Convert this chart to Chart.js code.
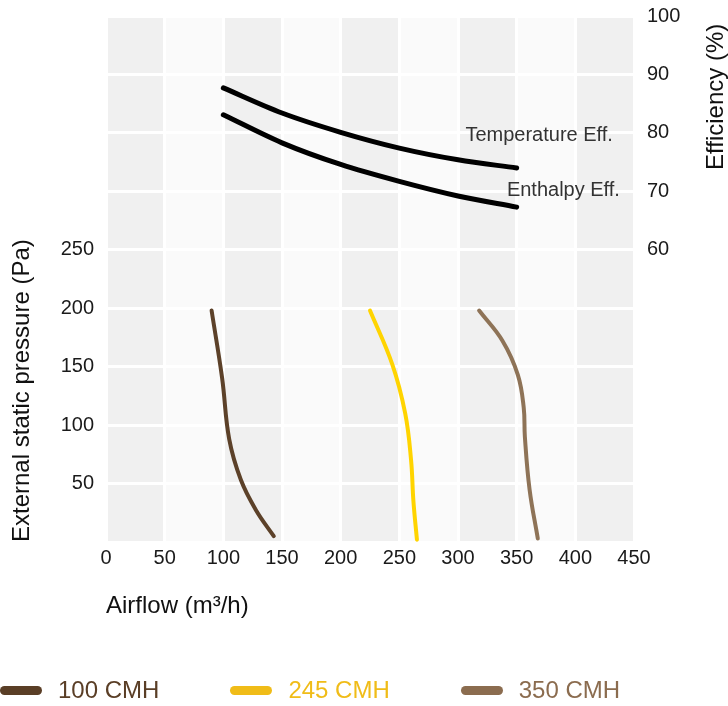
<!DOCTYPE html>
<html>
<head>
<meta charset="utf-8">
<script src="https://cdn.jsdelivr.net/npm/chart.js@4"></script>
<style>
  html, body { margin: 0; padding: 0; background: #fff; }
  #wrap { position: relative; width: 728px; height: 706px; }
  #legend { position: absolute; left: 0; top: 675px; display: flex; font-family: 'Liberation Sans', Arial, sans-serif; font-size: 24px; }
  .item { display: flex; align-items: center; margin-right: 71px; height: 30px; }
  .swatch { width: 42px; height: 9px; border-radius: 5px; margin-right: 16px; }
</style>
</head>
<body>
<div id="wrap">
  <canvas id="perfChart" width="728" height="706"></canvas>
  <div id="legend"></div>
</div>
<script>
// Fan curves: [airflow m3/h, external static pressure Pa]
const curve100 = [[90,198],[99,140],[105,88],[115,53],[128,27],[143,5]];
const curve245 = [[225,198],[244,152],[255,110],[260,70],[262,35],[265,2]];
const curve350 = [[318,198],[338,172],[351,143],[356,115],[357,90],[361,45],[368,3]];

// Efficiency curves: [airflow, efficiency %]
const tempEff = [[100,87.7],[150,83.4],[200,80.1],[250,77.4],[300,75.4],[350,74.0]];
const enthEff = [[100,83.1],[150,78.3],[200,74.6],[250,71.7],[300,69.2],[350,67.3]];

const seriesNames = ['100 CMH', '245 CMH', '350 CMH'];
const xTicks = [0, 50, 100, 150, 200, 250, 300, 350, 400, 450];
const pressureLabels = [50, 100, 150, 200, 250];
const effLabels = [60, 70, 80, 90, 100];

// in-plot labels: [text, airflow, efficiency]
const effNotes = [['Temperature Eff.', 432, 79.6], ['Enthalpy Eff.', 438, 70.2]];

const FONT = "'Liberation Sans', Arial, sans-serif";

function pts(arr) { return arr.map(p => ({x: p[0], y: p[1]})); }

const bandPlugin = {
  id: 'bands',
  beforeDraw(chart) {
    const {ctx, chartArea, scales} = chart;
    ctx.save();
    for (let i = 0; i < xTicks.length - 1; i++) {
      const a = scales.x.getPixelForValue(xTicks[i]);
      const b = scales.x.getPixelForValue(xTicks[i + 1]);
      ctx.fillStyle = i % 2 === 0 ? '#f0f0f0' : '#fafafa';
      ctx.fillRect(a, chartArea.top, b - a, chartArea.bottom - chartArea.top);
    }
    ctx.restore();
  }
};

const notesPlugin = {
  id: 'notes',
  afterDraw(chart) {
    const {ctx, scales} = chart;
    ctx.save();
    ctx.font = '20px ' + FONT;
    ctx.fillStyle = '#333';
    ctx.textAlign = 'right';
    ctx.textBaseline = 'middle';
    effNotes.forEach(n => {
      ctx.fillText(n[0], scales.x.getPixelForValue(n[1]), scales.y2.getPixelForValue(n[2]));
    });
    // right axis title, reads bottom to top
    ctx.translate(716, 170);
    ctx.rotate(-Math.PI / 2);
    ctx.font = '24px ' + FONT;
    ctx.fillStyle = '#111';
    ctx.textAlign = 'left';
    ctx.fillText('Efficiency (%)', 0, 0);
    ctx.restore();
  }
};

const lineColors = ['#5c4129', '#ffd400', '#8e7357'];
const legendColors = ['#5a3e26', '#f0bc18', '#8b6c4f'];
const fanCurves = [curve100, curve245, curve350];

const datasets = fanCurves.map((c, i) => ({
  label: seriesNames[i],
  data: pts(c),
  borderColor: lineColors[i],
  borderWidth: 4,
  tension: 0.4,
  yAxisID: 'y'
}));
datasets.push({ label: 'Temperature Eff.', data: pts(tempEff), borderColor: '#000', borderWidth: 5, cubicInterpolationMode: 'monotone', yAxisID: 'y2' });
datasets.push({ label: 'Enthalpy Eff.', data: pts(enthEff), borderColor: '#000', borderWidth: 5, cubicInterpolationMode: 'monotone', yAxisID: 'y2' });

// keep the plot box fixed, labels may overhang
function fixWidth(w) {
  return s => { s.width = w; s.paddingTop = 0; s.paddingBottom = 0; };
}

const ctx = document.getElementById('perfChart').getContext('2d');
const perfChart = new Chart(ctx, {
  type: 'line',
  data: { datasets: datasets },
  options: {
    responsive: false,
    animation: false,
    devicePixelRatio: 1,
    layout: { padding: { top: 16, left: 0, right: 0, bottom: 0 } },
    elements: {
      point: { radius: 0 },
      line: { borderCapStyle: 'round', borderJoinStyle: 'round', fill: false }
    },
    plugins: { legend: { display: false }, tooltip: { enabled: false } },
    scales: {
      x: {
        type: 'linear', min: 0, max: 450,
        afterFit: s => { s.height = 164; },
        ticks: { stepSize: 50, maxRotation: 0, autoSkip: false, padding: 4, color: '#1a1a1a', font: { family: FONT, size: 20 } },
        grid: { color: '#fff', lineWidth: 3, drawTicks: false },
        border: { display: false },
        title: { display: true, text: 'Airflow (m³/h)', align: 'start', color: '#111', font: { family: FONT, size: 24 }, padding: { bottom: 85 } }
      },
      y: {
        position: 'left', min: 0, max: 450,
        afterFit: fixWidth(106),
        ticks: {
          stepSize: 50, padding: 12, color: '#1a1a1a', font: { family: FONT, size: 20 },
          callback: v => pressureLabels.includes(v) ? v : ''
        },
        grid: { color: '#fff', lineWidth: 3, drawTicks: false },
        border: { display: false },
        title: { display: true, text: 'External static pressure (Pa)', align: 'start', color: '#111', font: { family: FONT, size: 24 }, padding: { top: 8 } }
      },
      y2: {
        position: 'right', min: 10, max: 100,
        afterFit: fixWidth(94),
        ticks: {
          stepSize: 10, padding: 13, color: '#1a1a1a', font: { family: FONT, size: 20 },
          callback: v => effLabels.includes(v) ? v : ''
        },
        grid: { display: false, drawTicks: false },
        border: { display: false }
      }
    }
  },
  plugins: [bandPlugin, notesPlugin]
});

// HTML legend built from the fan-curve datasets
const legendEl = document.getElementById('legend');
perfChart.data.datasets.slice(0, 3).forEach((ds, i) => {
  const item = document.createElement('div');
  item.className = 'item';
  const sw = document.createElement('span');
  sw.className = 'swatch';
  sw.style.background = legendColors[i];
  const txt = document.createElement('span');
  txt.textContent = ds.label;
  txt.style.color = legendColors[i];
  item.appendChild(sw);
  item.appendChild(txt);
  legendEl.appendChild(item);
});
</script>
</body>
</html>
